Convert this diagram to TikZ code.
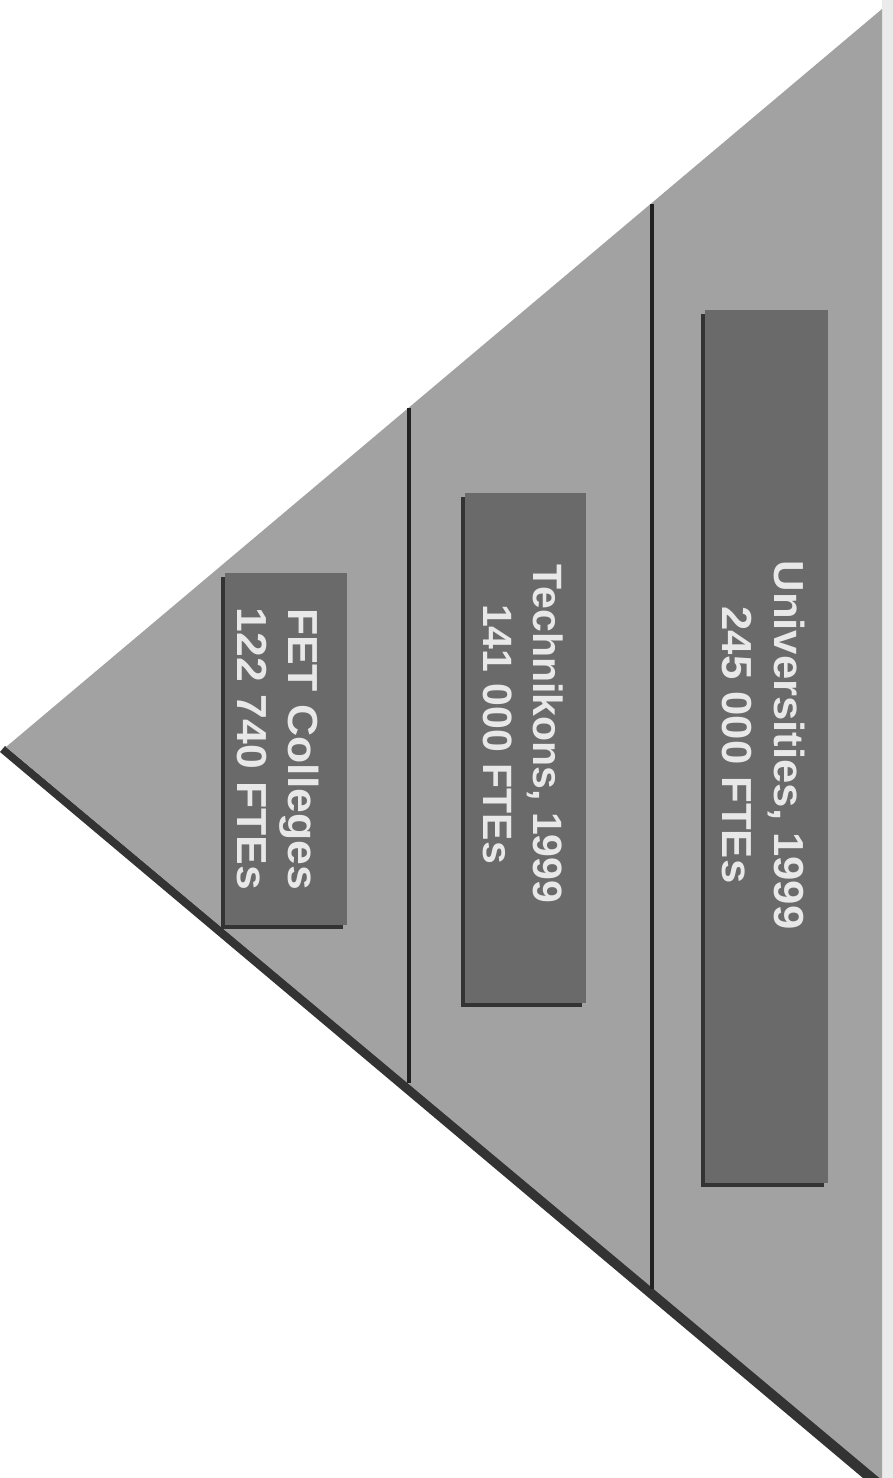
\documentclass[tikz,border=0pt]{standalone}
\usepackage{fontspec}
\setmainfont{Liberation Sans}
\definecolor{tri}{HTML}{A2A2A2}
\definecolor{shadowc}{HTML}{333333}
\definecolor{boxc}{HTML}{6A6A6A}
\definecolor{txt}{HTML}{E8E8E8}
\definecolor{vline}{HTML}{222222}
\tikzset{
  lvl/.style={fill=boxc, draw=none},
  lvlshadow/.style={fill=shadowc, draw=none},
  lbl/.style={rotate=-90, align=center, text=txt, inner sep=0pt},
  divider/.style={draw=vline, line width=4.5pt}
}
\newcommand{\wide}[2]{\scalebox{#1}[1]{#2}}
\begin{document}
\begin{tikzpicture}[x=1pt,y=-1pt]
\useasboundingbox (0,0) rectangle (893,1478);
\fill[white] (0,0) rectangle (893,1478);
\fill[black!8] (882,0) rectangle (893,1478);
% triangle with its dark lower edge
\fill[shadowc] (0,752) -- (5,746) -- (882,1479) -- (882,1494) -- cycle;
\fill[tri] (6,747) -- (882,9) -- (882,1480) -- cycle;
% dividers
\coordinate (d1t) at (409,408);
\coordinate (d1b) at (409,1083);
\coordinate (d2t) at (652,204);
\coordinate (d2b) at (652,1289);
\draw[divider] (d1t) -- (d1b);
\draw[divider] (d2t) -- (d2b);
% boxes
\fill[lvlshadow] (221,577) rectangle (343,929);
\fill[lvl] (225,573) rectangle (347,925);
\fill[lvlshadow] (461,497) rectangle (582,1007);
\fill[lvl] (465,493) rectangle (586,1003);
\fill[lvlshadow] (701,314) rectangle (824,1187);
\fill[lvl] (705,310) rectangle (828,1183);
% labels
\node[lbl, font=\fontsize{42}{51}\selectfont\bfseries] (fet) at (278,749)
  {\wide{1.06}{FET Colleges}\\\wide{1.06}{122 740 FTEs}};
\node[lbl, font=\fontsize{41}{50}\selectfont\bfseries] (tech) at (523,734)
  {Technikons, 1999\\141 000 FTEs};
\node[lbl, font=\fontsize{42}{52}\selectfont\bfseries] (uni) at (764,745)
  {\wide{1.04}{Universities, 1999}\\\wide{1.04}{245 000 FTEs}};
\end{tikzpicture}
\end{document}
